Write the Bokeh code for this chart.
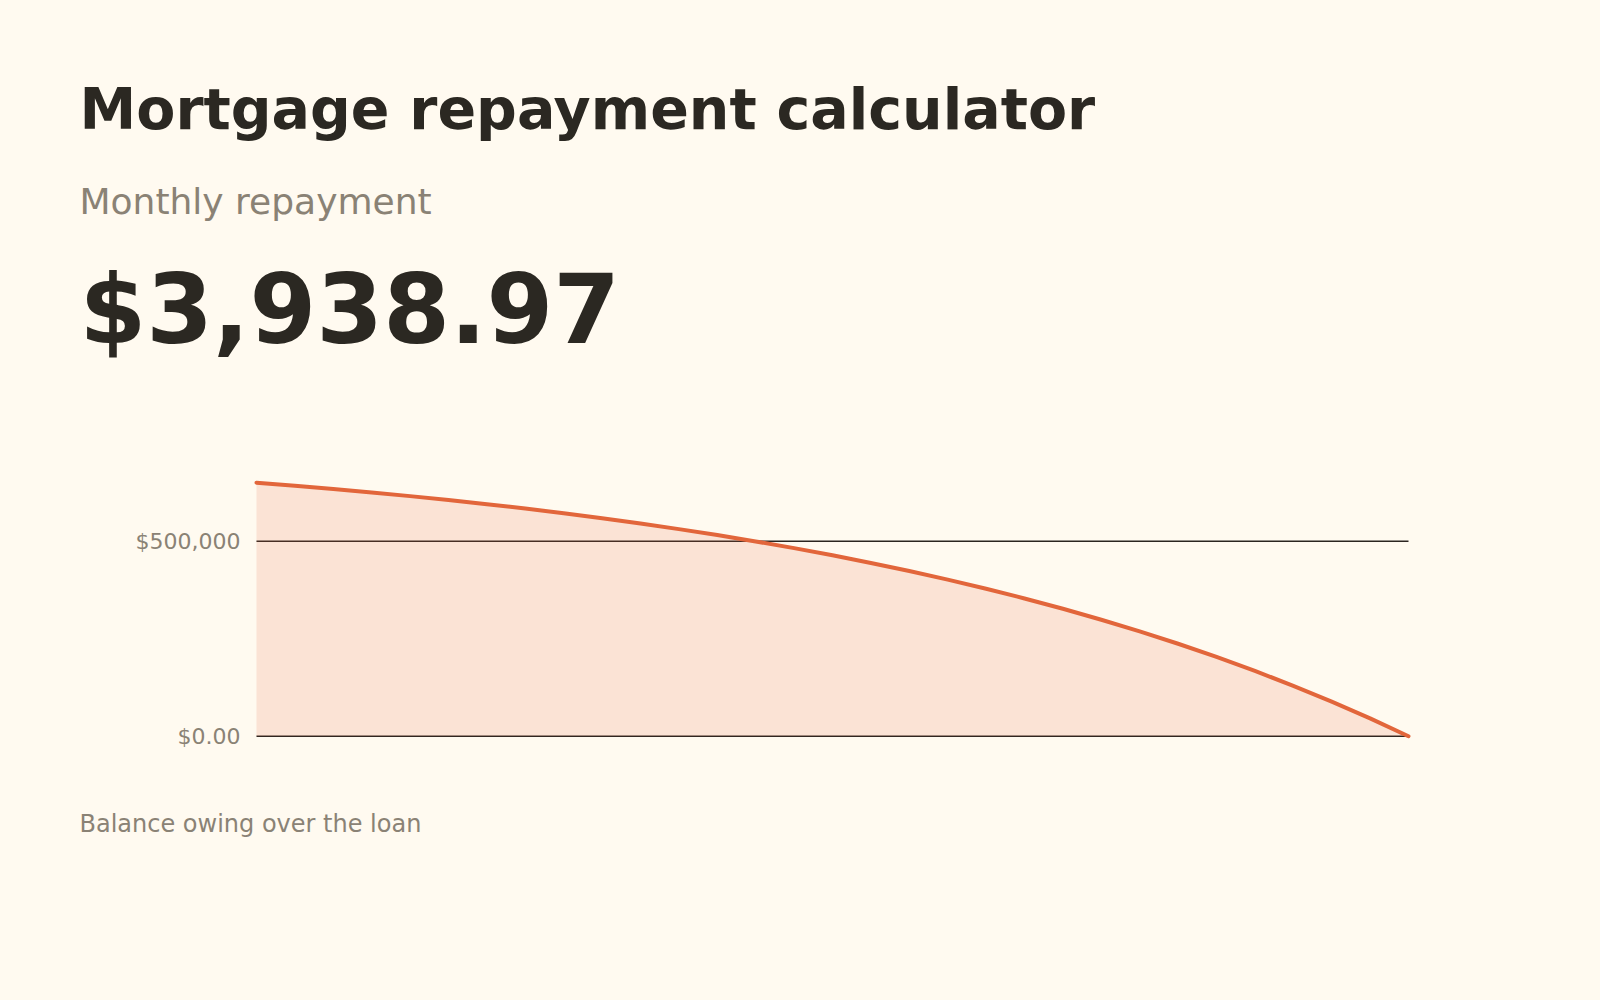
from bokeh.plotting import figure
from bokeh.models import Range1d, FixedTicker, Label
from bokeh.embed import file_html
from bokeh.resources import INLINE

# ---- data ----
years = [0, 1, 2, 3, 4, 5, 6, 7, 8, 9, 10, 11, 12, 13, 14, 15, 16, 17, 18, 19, 20,
         21, 22, 23, 24, 25, 26, 27, 28, 29, 30]
balance = [650000, 642166, 633840, 624993, 615589, 605596, 594976, 583690, 571696,
           558949, 545403, 531007, 515707, 499448, 482169, 463806, 444291, 423552,
           401511, 378088, 353195, 326741, 298627, 268749, 236997, 203253, 167392,
           129281, 88779, 45737, 0]
tick_values = [0, 500000]
tick_labels = ["$0.00", "$500,000"]
title_text = "Mortgage repayment calculator"
subtitle_text = "Monthly repayment"
amount_text = "$3,938.97"
caption_text = "Balance owing over the loan"

# ---- layout (page pixels; the canvas starts at the page origin) ----
W, H = 1584, 984
CHART_L, CHART_R = 256, 1408     # pixel extent of the balance curve
ZERO_Y = 735.7                   # pixel row of the $0 line
PX_PER_UNIT = 195.0 / 500000.0   # vertical pixels per dollar
PX_PER_YEAR = (CHART_R - CHART_L) / (years[-1] - years[0])

x_start = years[0] - CHART_L / PX_PER_YEAR
x_end = years[-1] + (W - CHART_R) / PX_PER_YEAR
y_start = -(H - ZERO_Y) / PX_PER_UNIT
y_end = ZERO_Y / PX_PER_UNIT


def dx(px):
    return x_start + px / PX_PER_YEAR


def dy(py):
    return (ZERO_Y - py) / PX_PER_UNIT


BG = "#fffaf0"
DARK = "#2b2822"
GRAY = "#8a8275"
ORANGE = "#e2663b"
GRID = "#2b2520"
FONT = "DejaVu Sans"

p = figure(width=W, height=H, output_backend="svg", toolbar_location=None, tools="",
           x_range=Range1d(x_start, x_end), y_range=Range1d(y_start, y_end),
           min_border=0, min_border_left=0, min_border_right=0,
           min_border_top=0, min_border_bottom=0, title_location=None)
p.background_fill_color = BG
p.border_fill_color = BG
p.outline_line_color = None

p.xaxis.visible = False
p.grid.visible = False

yax = p.yaxis[0]
yax.fixed_location = years[0]
yax.ticker = FixedTicker(ticks=tick_values)
yax.major_label_overrides = {v: t for v, t in zip(tick_values, tick_labels)}
yax.axis_line_color = None
yax.major_tick_line_color = None
yax.minor_tick_line_color = None
yax.major_tick_out = 0
yax.major_tick_in = 0
yax.minor_tick_out = 0
yax.minor_tick_in = 0
yax.major_label_standoff = 16
yax.major_label_text_font = FONT
yax.major_label_text_font_size = "22px"
yax.major_label_text_color = GRAY

# horizontal rules at the tick values, spanning the loan term
p.segment(x0=[years[0]] * len(tick_values), x1=[years[-1]] * len(tick_values),
          y0=tick_values, y1=tick_values, line_color=GRID, line_width=1.5)

p.varea(x=years, y1=0, y2=balance, fill_color=ORANGE, fill_alpha=0.15)
p.line(years, balance, line_color=ORANGE, line_width=4, line_cap="round", line_join="round")


def add_label(text, px, py, size, color, bold=False):
    p.add_layout(Label(x=dx(px), y=dy(py), text=text, text_font=FONT, text_font_size=size,
                       text_color=color, text_font_style="bold" if bold else "normal",
                       text_baseline="alphabetic", text_align="left"))


add_label(title_text, 79, 108, "57px", DARK, bold=True)
add_label(subtitle_text, 79, 201, "36px", GRAY)
add_label(amount_text, 79, 309, "96px", DARK, bold=True)
add_label(caption_text, 79, 823.3, "24px", GRAY)

html = file_html(p, INLINE, title="Mortgage repayment calculator")
html = html.replace("</head>", "<style>html, body { background: %s; }</style></head>" % BG, 1)
open("out.html", "w").write(html)
